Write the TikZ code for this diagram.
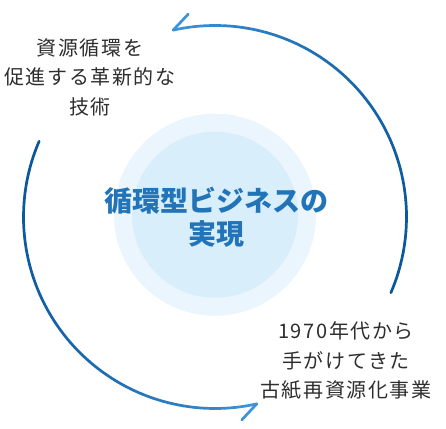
\documentclass[tikz,border=0pt]{standalone}
\usepackage{fontspec}
\usetikzlibrary{calc}
\newfontfamily\cjklabel[LetterSpace=8]{Noto Sans CJK JP}
\newfontfamily\cjkcenter{Noto Sans CJK JP}
\definecolor{ringOuter}{HTML}{EAF5FD}
\definecolor{ringInner}{HTML}{D8EEFB}
\definecolor{arcDark}{HTML}{0A579C}
\definecolor{arcLight}{HTML}{3E92D6}
\definecolor{labelGray}{HTML}{2E2E2E}
\definecolor{centerBlue}{HTML}{2274B8}
\tikzset{
  arcline/.style={line width=2.7pt, line cap=round},
  labeltext/.style={align=center, text=labelGray, inner sep=0pt,
    font=\cjklabel\fontsize{20}{29.5}\selectfont},
  centertext/.style={align=center, text=centerBlue, inner sep=0pt,
    font=\cjkcenter\bfseries\fontsize{28}{33}\selectfont}
}
\begin{document}
\begin{tikzpicture}[x=1pt,y=1pt]
\useasboundingbox (0,0) rectangle (446,428);
\fill[white] (0,0) rectangle (446,428);
\coordinate (C) at (215,211);
\coordinate (R) at (215,213.3);
% rings
\fill[ringOuter] (R) circle[radius=101];
\fill[ringInner] (R) circle[radius=83];
% upper arc (light at arrow head, dark at tail)
\foreach \i in {0,...,39}{
  \pgfmathsetmacro\aa{102.6+(-23.3-102.6)*\i/40}
  \pgfmathsetmacro\ab{102.6+(-23.3-102.6)*(\i+1)/40}
  \pgfmathsetmacro\p{100*(1-\i/39)^2}
  \colorlet{segc}{arcLight!\p!arcDark}
  \draw[arcline, segc] (C) ++(\aa:191.5) arc[start angle=\aa, end angle=\ab, radius=191.5];
}
% lower arc (dark at tail, light at arrow head)
\foreach \i in {0,...,39}{
  \pgfmathsetmacro\aa{156.7+(282.6-156.7)*\i/40}
  \pgfmathsetmacro\ab{156.7+(282.6-156.7)*(\i+1)/40}
  \pgfmathsetmacro\p{100*(\i/39)^2}
  \colorlet{segc}{arcLight!\p!arcDark}
  \draw[arcline, segc] (C) ++(\aa:191.5) arc[start angle=\aa, end angle=\ab, radius=191.5];
}
% arrow barbs
\coordinate (tipTop) at ($(C)+(102.6:191.5)$);
\coordinate (barbTop) at ($(tipTop)+(15,16)$);
\coordinate (tipBot) at ($(C)+(282.6:191.5)$);
\coordinate (barbBot) at ($(tipBot)+(-15,-16)$);
\draw[arcline, arcLight] (tipTop) -- (barbTop);
\draw[arcline, arcLight] (tipBot) -- (barbBot);
% texts
\node[labeltext] (tl) at (90,351) {資源循環を\\促進する革新的な\\技術};
\node[labeltext] (br) at (346,67) {1970年代から\\手がけてきた\\古紙再資源化事業};
\node[centertext] (ct) at (216.5,210.7) {循環型ビジネスの\\実現};
\end{tikzpicture}
\end{document}
